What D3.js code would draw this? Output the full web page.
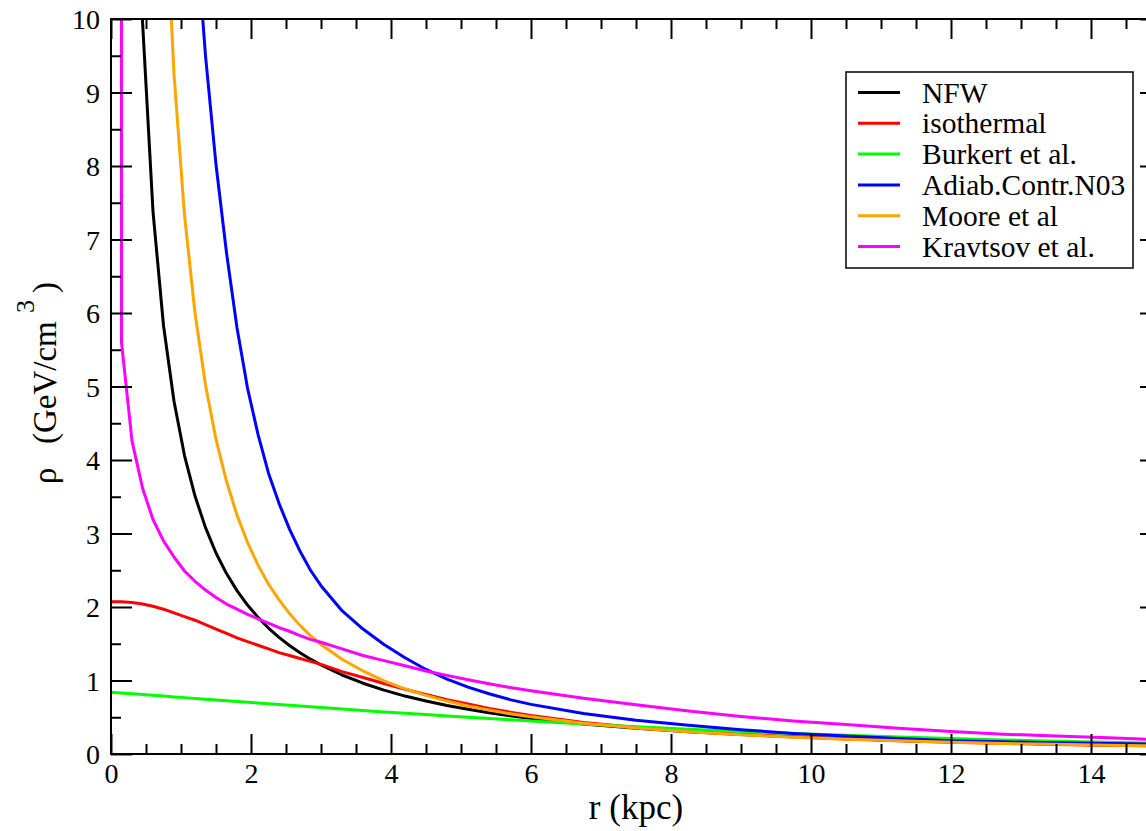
<!DOCTYPE html>
<html>
<head>
<meta charset="utf-8">
<script src="https://cdn.jsdelivr.net/npm/d3@7"></script>
<style>
  html, body { margin: 0; padding: 0; background: #fff; overflow: hidden; }
  svg { display: block; }
</style>
</head>
<body>
<svg id="chart" width="1146" height="831"></svg>
<script>
// ---- data ----
const rValues = [0, 0.15, 0.3, 0.45, 0.6, 0.75, 0.9, 1.05, 1.2, 1.35, 1.5, 1.65, 1.8, 1.95, 2.1, 2.25, 2.4, 2.55, 2.7, 2.85, 3.0,
  3.3, 3.6, 3.9, 4.2, 4.5, 4.8, 5.1, 5.4, 5.7, 6.0,
  6.75, 7.5, 8.25, 9.0, 9.75, 10.5, 11.25, 12.0, 12.75, 13.5, 14.25, 15.0];

const rhoNFW = [null, 30.7, 15.16, 9.97, 7.38, 5.83, 4.80, 4.06, 3.51, 3.08, 2.735, 2.455, 2.223, 2.027, 1.859, 1.714, 1.587, 1.476, 1.378, 1.290, 1.211,
  1.075, 0.963, 0.869, 0.788, 0.720, 0.660, 0.608, 0.561, 0.521, 0.484,
  0.409, 0.350, 0.302, 0.264, 0.233, 0.206, 0.184, 0.165, 0.149, 0.135, 0.122, 0.112];

const rhoIsothermal = [2.07, 2.07, 2.06, 2.04, 2.01, 1.97, 1.92, 1.87, 1.82, 1.76, 1.70, 1.64, 1.58, 1.53, 1.48, 1.43, 1.38, 1.34, 1.30, 1.26, 1.22,
  1.12, 1.04, 0.96, 0.88, 0.81, 0.74, 0.68, 0.62, 0.57, 0.525,
  0.43, 0.36, 0.31, 0.27, 0.235, 0.205, 0.18, 0.16, 0.145, 0.13, 0.12, 0.11];

const rhoBurkert = [0.84, 0.829, 0.819, 0.808, 0.798, 0.788, 0.777, 0.767, 0.756, 0.746, 0.735, 0.725, 0.714, 0.704, 0.694, 0.683, 0.673, 0.663, 0.653, 0.643, 0.633,
  0.613, 0.593, 0.573, 0.554, 0.536, 0.517, 0.499, 0.482, 0.465, 0.448,
  0.408, 0.372, 0.338, 0.307, 0.279, 0.254, 0.231, 0.21, 0.191, 0.175, 0.159, 0.146];

const rhoAdiabatic = [null, 420, 126, 62, 37.4, 25.3, 18.4, 14.2, 11.4, 9.5, 8.02, 6.82, 5.80, 4.98, 4.35, 3.82, 3.41, 3.06, 2.76, 2.50, 2.29,
  1.95, 1.70, 1.49, 1.31, 1.15, 1.02, 0.91, 0.82, 0.74, 0.675,
  0.55, 0.46, 0.39, 0.33, 0.28, 0.245, 0.21, 0.18, 0.165, 0.152, 0.142, 0.133];

const rhoMoore = [null, 136, 48.3, 26.3, 17.06, 12.21, 9.25, 7.33, 6.00, 5.02, 4.28, 3.71, 3.25, 2.88, 2.57, 2.31, 2.10, 1.91, 1.75, 1.61, 1.49,
  1.29, 1.13, 0.995, 0.887, 0.797, 0.720, 0.654, 0.598, 0.549, 0.506,
  0.419, 0.353, 0.302, 0.262, 0.229, 0.202, 0.180, 0.161, 0.144, 0.131, 0.119, 0.108];

const rhoKravtsov = [1000, 5.6, 4.26, 3.62, 3.19, 2.90, 2.68, 2.49, 2.35, 2.23, 2.13, 2.04, 1.97, 1.90, 1.84, 1.78, 1.72, 1.67, 1.61, 1.56, 1.52,
  1.43, 1.34, 1.27, 1.20, 1.13, 1.07, 1.01, 0.955, 0.905, 0.86,
  0.76, 0.67, 0.585, 0.51, 0.45, 0.40, 0.35, 0.305, 0.27, 0.245, 0.22, 0.195];

const seriesNames = ["NFW", "isothermal", "Burkert et al.", "Adiab.Contr.N03", "Moore et al", "Kravtsov et al."];
const seriesColors = ["#000000", "#ff0000", "#00ff00", "#0000ff", "#ffa500", "#ff00ff"];
const seriesValues = [rhoNFW, rhoIsothermal, rhoBurkert, rhoAdiabatic, rhoMoore, rhoKravtsov];

const xTicks = [0, 2, 4, 6, 8, 10, 12, 14];
const yTicks = [0, 1, 2, 3, 4, 5, 6, 7, 8, 9, 10];
const xTitle = "r (kpc)";

// ---- drawing ----
const FONT = "Liberation Serif";
const svg = d3.select("#chart");
const L = 111, R = 1161, T = 19, B = 754;
const x = d3.scaleLinear().domain([0, 15]).range([L, R]);
const y = d3.scaleLinear().domain([0, 10]).range([B, T]);

svg.append("defs").append("clipPath").attr("id", "plotclip")
  .append("rect").attr("x", L).attr("y", T).attr("width", R - L).attr("height", B - T);

// curves
const line = d3.line()
  .defined(d => d[1] != null)
  .x(d => x(d[0]))
  .y(d => y(d[1]));

const gCurves = svg.append("g").attr("clip-path", "url(#plotclip)");
seriesValues.forEach((vals, i) => {
  const pts = rValues.map((r, k) => [r, vals[k]]);
  gCurves.append("path")
    .datum(pts)
    .attr("d", line)
    .attr("fill", "none")
    .attr("stroke", seriesColors[i])
    .attr("stroke-width", 3)
    .attr("stroke-linejoin", "round");
});

// axes (ticks inside, mirrored on all sides)
const xMinor = d3.range(0, 15.001, 0.5).filter(v => Math.abs(v / 2 - Math.round(v / 2)) > 1e-6);
const yMinor = d3.range(0.5, 10, 1);

function styleAxis(g) {
  g.attr("font-family", FONT);
  g.select(".domain").remove();
  g.selectAll(".tick line").attr("stroke", "#000").attr("stroke-width", 2);
  g.selectAll(".tick text").attr("font-size", 28).attr("font-family", FONT).attr("fill", "#000");
}

// bottom
const gB = svg.append("g").attr("transform", `translate(0,${B})`)
  .call(d3.axisBottom(x).tickValues(xTicks).tickFormat(d3.format("d")).tickSizeInner(-20).tickSizeOuter(0).tickPadding(0));
styleAxis(gB);
gB.selectAll(".tick text").attr("y", 29).attr("dy", 0);
svg.append("g").attr("transform", `translate(0,${B})`)
  .call(d3.axisBottom(x).tickValues(xMinor).tickFormat("").tickSizeInner(-10).tickSizeOuter(0))
  .call(styleAxis);

// top
svg.append("g").attr("transform", `translate(0,${T})`)
  .call(d3.axisTop(x).tickValues(xTicks).tickFormat("").tickSizeInner(-20).tickSizeOuter(0))
  .call(styleAxis);
svg.append("g").attr("transform", `translate(0,${T})`)
  .call(d3.axisTop(x).tickValues(xMinor).tickFormat("").tickSizeInner(-10).tickSizeOuter(0))
  .call(styleAxis);

// left
const gL = svg.append("g").attr("transform", `translate(${L},0)`)
  .call(d3.axisLeft(y).tickValues(yTicks).tickFormat(d3.format("d")).tickSizeInner(-21).tickSizeOuter(0).tickPadding(0));
styleAxis(gL);
gL.selectAll(".tick text").attr("x", -11).attr("dy", "0.35em").attr("text-anchor", "end");
svg.append("g").attr("transform", `translate(${L},0)`)
  .call(d3.axisLeft(y).tickValues(yMinor).tickFormat("").tickSizeInner(-10).tickSizeOuter(0))
  .call(styleAxis);

// right
svg.append("g").attr("transform", `translate(${R},0)`)
  .call(d3.axisRight(y).tickValues(yTicks).tickFormat("").tickSizeInner(-21).tickSizeOuter(0))
  .call(styleAxis);
svg.append("g").attr("transform", `translate(${R},0)`)
  .call(d3.axisRight(y).tickValues(yMinor).tickFormat("").tickSizeInner(-10).tickSizeOuter(0))
  .call(styleAxis);

// frame
svg.append("rect").attr("x", L).attr("y", T).attr("width", R - L).attr("height", B - T)
  .attr("fill", "none").attr("stroke", "#000").attr("stroke-width", 2);

// axis titles
svg.append("text").attr("x", (L + R) / 2).attr("y", 819).attr("font-family", FONT).attr("fill", "#000")
  .attr("text-anchor", "middle").attr("font-size", 35).text(xTitle);

// y title: local frame after rotate(-90): local x = -screen y, local y = screen x - 56
const yt = svg.append("text")
  .attr("transform", "translate(56,0) rotate(-90)").attr("font-family", FONT).attr("fill", "#000")
  .attr("text-anchor", "start").attr("font-size", 33);
yt.append("tspan").attr("x", -484).attr("y", 0).text("ρ");
yt.append("tspan").attr("x", -444).attr("y", 0).text("(GeV/cm");
yt.append("tspan").attr("x", -313).attr("y", -22).attr("font-size", 26).text("3");
yt.append("tspan").attr("x", -293).attr("y", 0).text(")");

// legend
const lg = svg.append("g").attr("font-family", FONT);
lg.append("rect").attr("x", 846).attr("y", 72).attr("width", 287).attr("height", 196)
  .attr("fill", "#fff").attr("stroke", "#000").attr("stroke-width", 1.5);
seriesNames.forEach((name, i) => {
  const ly = 92.5 + i * 30.8;
  lg.append("line").attr("x1", 858).attr("x2", 900).attr("y1", ly).attr("y2", ly)
    .attr("stroke", seriesColors[i]).attr("stroke-width", 3);
  lg.append("text").attr("x", 922).attr("y", ly).attr("dy", "0.34em").attr("fill", "#000")
    .attr("font-family", FONT).attr("font-size", 29.5).text(name);
});
</script>
</body>
</html>
